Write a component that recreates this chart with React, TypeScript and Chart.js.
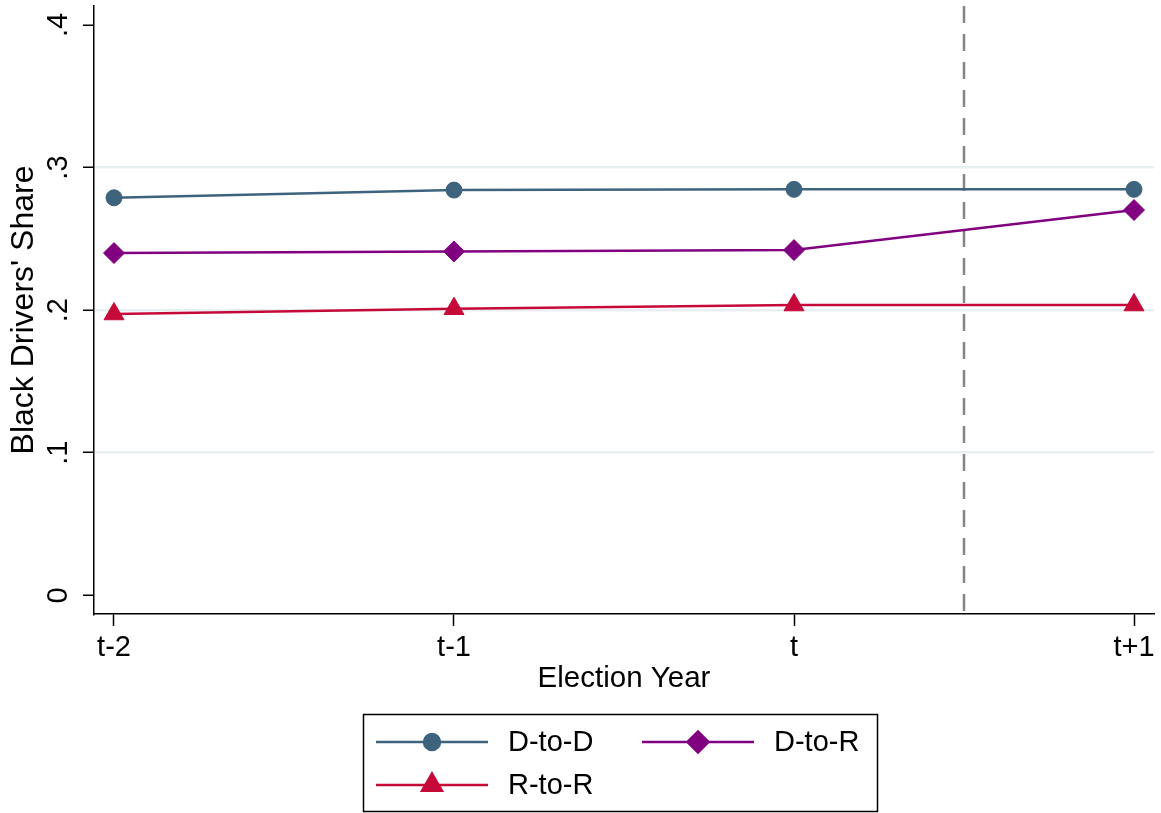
import React, { useEffect, useRef } from 'react';
import { Chart, registerables } from 'chart.js';
import { drawPoint } from 'chart.js/helpers';

Chart.register(...registerables);

// Election periods relative to the switch year
const periodLabels = ['t-2', 't-1', 't', 't+1'];
const periodPositions = [0, 1, 2, 3];

// Share of Black drivers by transition group
const dToD = [0.2788, 0.2842, 0.2847, 0.2847];
const dToR = [0.24, 0.2412, 0.2421, 0.2702];
const rToR = [0.1973, 0.201, 0.2036, 0.2036];

const yTickValues = [0, 0.1, 0.2, 0.3, 0.4];
const yTickLabels = ['0', '.1', '.2', '.3', '.4'];
const gridValues = [0.1, 0.2, 0.3];

// Reference line between t and t+1
const eventLine = 2.5;

const FONT = '"Liberation Sans", Arial, Helvetica, sans-serif';
const FONT_SIZE = 29;

const toPoints = (ys: number[]) => periodPositions.map((x, i) => ({ x, y: ys[i] }));

const eventLinePlugin = {
  id: 'eventLine',
  beforeDatasetsDraw(chart: any) {
    const { ctx, chartArea, scales } = chart;
    const x = scales.x.getPixelForValue(eventLine);
    ctx.save();
    ctx.strokeStyle = '#858585';
    ctx.lineWidth = 2.5;
    ctx.setLineDash([17, 11]);
    ctx.beginPath();
    ctx.moveTo(x, chartArea.top);
    ctx.lineTo(x, chartArea.bottom);
    ctx.stroke();
    ctx.restore();
  },
};

const legendBoxPlugin = {
  id: 'legendBox',
  afterDraw(chart: any) {
    const { ctx } = chart;
    const box = { left: 363.5, top: 714.5, right: 877.5, bottom: 811.5 };
    ctx.save();
    ctx.strokeStyle = '#000';
    ctx.lineWidth = 1.5;
    ctx.strokeRect(box.left, box.top, box.right - box.left, box.bottom - box.top);

    const slots = [
      { x: 376, y: 742 },
      { x: 642, y: 742 },
      { x: 376, y: 785 },
    ];
    chart.data.datasets.forEach((ds: any, i: number) => {
      const s = slots[i];
      ctx.strokeStyle = ds.borderColor;
      ctx.lineWidth = ds.borderWidth;
      ctx.setLineDash([]);
      ctx.beginPath();
      ctx.moveTo(s.x, s.y);
      ctx.lineTo(s.x + 112, s.y);
      ctx.stroke();
      ctx.fillStyle = ds.pointBackgroundColor;
      ctx.strokeStyle = ds.pointBorderColor;
      drawPoint(ctx, { pointStyle: ds.pointStyle, rotation: 0, radius: ds.pointRadius, borderWidth: ds.pointBorderWidth }, s.x + 56, s.y);
      ctx.fillStyle = '#000';
      ctx.font = `${FONT_SIZE}px ${FONT}`;
      ctx.textBaseline = 'middle';
      ctx.textAlign = 'left';
      ctx.fillText(ds.label, s.x + 132, s.y + 1);
    });
    ctx.restore();
  },
};

export default function App() {
  const canvasRef = useRef<HTMLCanvasElement | null>(null);

  useEffect(() => {
    if (!canvasRef.current) return;
    const chart = new Chart(canvasRef.current, {
      type: 'line',
      data: {
        datasets: [
          {
            label: 'D-to-D',
            data: toPoints(dToD),
            borderColor: '#3e647d',
            backgroundColor: '#3e647d',
            borderWidth: 2.5,
            pointStyle: 'circle',
            pointRadius: 8,
            pointBorderWidth: 1,
            pointBackgroundColor: '#3e647d',
            pointBorderColor: '#3e647d',
          },
          {
            label: 'D-to-R',
            data: toPoints(dToR),
            borderColor: '#800080',
            backgroundColor: '#800080',
            borderWidth: 2.5,
            pointStyle: 'rectRot',
            pointRadius: 10.5,
            pointBorderWidth: 1,
            pointBackgroundColor: '#800080',
            pointBorderColor: '#800080',
          },
          {
            label: 'R-to-R',
            data: toPoints(rToR),
            borderColor: '#c50a3a',
            backgroundColor: '#c50a3a',
            borderWidth: 2.5,
            pointStyle: 'triangle',
            pointRadius: 11.5,
            pointBorderWidth: 1,
            pointBackgroundColor: '#c50a3a',
            pointBorderColor: '#c50a3a',
          },
        ] as any,
      },
      options: {
        animation: false,
        responsive: false,
        devicePixelRatio: 1,
        layout: { autoPadding: false, padding: { top: 6, right: 7, bottom: 113, left: 0 } },
        plugins: {
          legend: { display: false },
          tooltip: { enabled: false },
        },
        elements: { line: { tension: 0 } },
        scales: {
          x: {
            type: 'linear',
            min: -0.0588,
            max: 3.0588,
            afterBuildTicks: (scale: any) => {
              scale.ticks = periodPositions.map((v) => ({ value: v }));
            },
            afterFit: (scale: any) => {
              scale.height = 86;
              scale.paddingLeft = 0;
              scale.paddingRight = 0;
            },
            ticks: {
              color: '#000',
              font: { family: FONT, size: FONT_SIZE },
              padding: 5,
              maxRotation: 0,
              minRotation: 0,
              autoSkip: false,
              callback: (v: any) => {
                const i = periodPositions.indexOf(Number(v));
                return i >= 0 ? periodLabels[i] : '';
              },
            },
            grid: {
              drawOnChartArea: false,
              drawTicks: true,
              tickLength: 12,
              tickColor: '#000',
              tickWidth: 1.5,
            },
            border: { display: true, color: '#000', width: 1.5 },
            title: {
              display: true,
              text: 'Election Year',
              color: '#000',
              font: { family: FONT, size: 29.5 },
              padding: { top: 0, bottom: 3 },
            },
          },
          y: {
            type: 'linear',
            min: -0.0131,
            max: 0.4133,
            afterBuildTicks: (scale: any) => {
              scale.ticks = yTickValues.map((v) => ({ value: v }));
            },
            afterFit: (scale: any) => {
              scale.width = 94;
              scale.paddingTop = 0;
              scale.paddingBottom = 0;
            },
            ticks: {
              color: '#000',
              font: { family: FONT, size: FONT_SIZE },
              padding: 12,
              minRotation: 90,
              maxRotation: 90,
              crossAlign: 'center',
              autoSkip: false,
              callback: (v: any) => {
                const i = yTickValues.findIndex((t) => Math.abs(t - Number(v)) < 1e-9);
                return i >= 0 ? yTickLabels[i] : '';
              },
            },
            grid: {
              drawOnChartArea: true,
              drawTicks: true,
              tickLength: 11,
              tickColor: '#000',
              tickWidth: 1.5,
              lineWidth: 2.5,
              color: (ctx: any) =>
                ctx.tick && gridValues.some((g) => Math.abs(g - ctx.tick.value) < 1e-9)
                  ? '#e7eff1'
                  : 'rgba(0,0,0,0)',
            },
            border: { display: true, color: '#000', width: 1.5 },
            title: {
              display: true,
              text: "Black Drivers' Share",
              color: '#000',
              font: { family: FONT, size: 32 },
              padding: { top: 5, bottom: 0 },
            },
          },
        },
      } as any,
      plugins: [eventLinePlugin, legendBoxPlugin],
    });
    return () => chart.destroy();
  }, []);

  return (
    <div style={{ position: 'absolute', left: 0, top: 0, width: 1161, height: 813, background: '#fff' }}>
      <canvas ref={canvasRef} width={1161} height={813} />
    </div>
  );
}
